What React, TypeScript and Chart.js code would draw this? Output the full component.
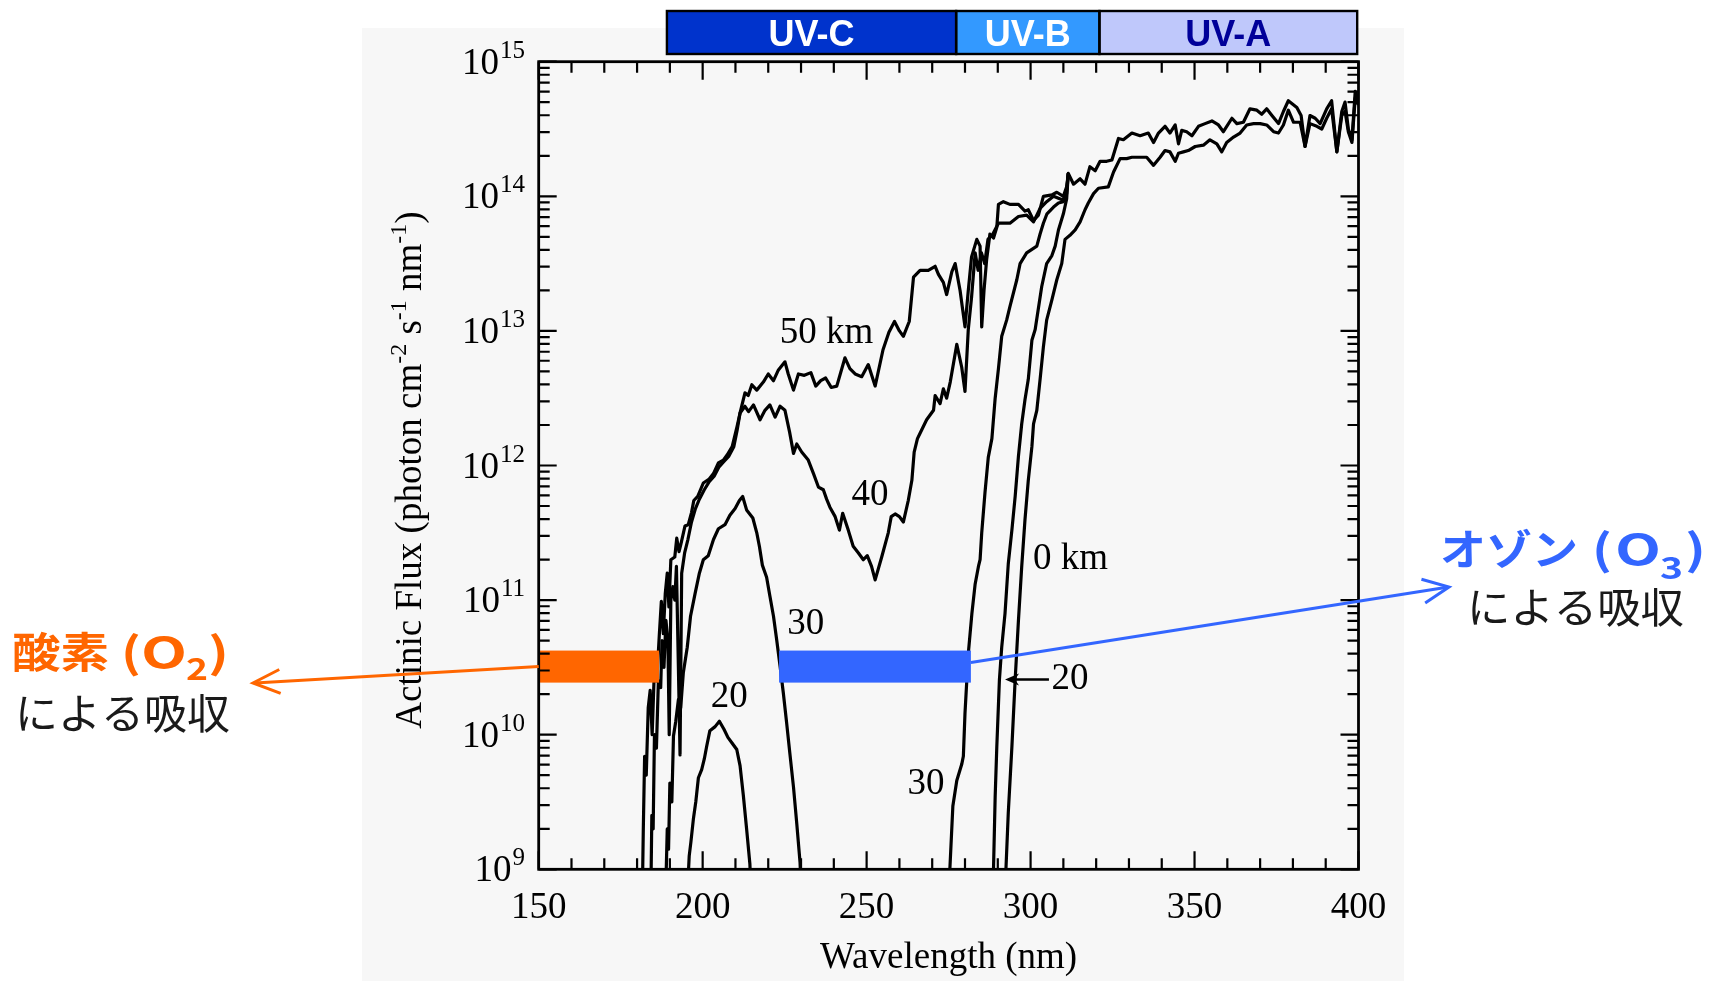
import React, { useEffect, useRef } from "react";
import { Chart, registerables } from "chart.js";

Chart.register(...registerables);

const PAGE_W = 1710;
const PAGE_H = 981;

// ---- data: [wavelength (nm), log10 actinic flux (photon cm-2 s-1 nm-1)] ----
type Pt = [number, number] | null;

const flux50km: Pt[] = [
  [181.6, 8.8], [181.9, 9.3], [182.3, 9.84], [182.8, 9.7], [183.4, 10.2], [184.0, 10.33], [184.6, 10.0],
  [185.3, 10.5], [186.0, 10.4], [186.8, 10.75], [187.4, 10.99], [188.0, 10.75], [188.6, 11.05], [189.2, 11.2],
  [189.7, 10.95], [190.3, 11.3], [191.5, 11.32], [192.1, 11.46], [192.8, 11.36], [193.4, 11.42], [194.6, 11.55],
  [195.6, 11.56], [196.6, 11.65], [197.3, 11.74], [198.5, 11.77], [200.2, 11.87], [202.0, 11.9], [203.3, 11.94],
  [204.8, 12.02], [206.3, 12.04], [207.5, 12.08], [209.0, 12.14], [210.5, 12.29], [211.5, 12.4], [212.9, 12.54],
  [213.9, 12.52], [215.0, 12.6], [216.5, 12.56], [218.5, 12.62], [220.0, 12.68], [221.6, 12.63], [223.1, 12.71],
  [225.1, 12.77], [226.1, 12.68], [227.7, 12.56], [229.2, 12.68], [231.0, 12.67], [233.0, 12.69], [234.5, 12.59],
  [236.0, 12.63], [237.5, 12.65], [239.2, 12.58], [240.9, 12.59], [243.4, 12.8], [244.9, 12.72], [246.5, 12.68],
  [248.5, 12.66], [250.5, 12.75], [252.6, 12.59], [255.0, 12.86], [256.8, 12.99], [258.5, 13.07], [260.0, 13.0],
  [261.2, 12.96], [263.0, 13.07], [264.3, 13.4], [266.3, 13.45], [268.8, 13.45], [270.9, 13.48], [271.9, 13.42],
  [273.4, 13.36], [274.4, 13.27], [276.0, 13.44], [277.0, 13.5], [278.5, 13.3], [280.0, 13.03], [281.0, 13.3],
  [282.0, 13.55], [283.6, 13.68], [284.6, 13.63], [285.1, 13.03], [285.8, 13.3], [286.6, 13.53], [287.6, 13.72],
  [288.7, 13.69], [289.7, 13.77], [290.2, 13.94], [291.7, 13.96], [293.7, 13.94], [296.3, 13.94], [298.3, 13.89],
  [299.3, 13.9], [300.9, 13.82], [302.4, 13.86], [303.9, 14.0], [306.5, 14.01], [308.0, 14.03], [310.0, 14.0],
  [311.0, 14.07], [311.5, 14.17], [313.1, 14.09], [315.1, 14.13], [316.6, 14.09], [318.1, 14.22], [319.7, 14.19],
  [321.2, 14.26], [323.2, 14.26], [324.8, 14.27], [326.8, 14.43], [328.3, 14.42], [330.9, 14.47], [333.4, 14.45],
  [335.9, 14.47], [337.5, 14.4], [339.0, 14.47], [341.0, 14.52], [342.5, 14.47], [344.1, 14.53], [345.1, 14.39],
  [346.1, 14.49], [347.6, 14.48], [349.2, 14.45], [351.2, 14.52], [353.2, 14.54], [355.3, 14.56], [357.3, 14.53],
  [358.8, 14.48], [361.4, 14.58], [362.9, 14.54], [364.9, 14.55], [366.9, 14.65], [369.0, 14.64], [370.5, 14.61],
  [372.0, 14.65], [373.6, 14.6], [375.6, 14.54], [377.1, 14.63], [378.6, 14.71], [381.2, 14.66], [382.5, 14.6],
  [383.7, 14.37], [385.2, 14.6], [386.8, 14.58], [388.3, 14.54], [390.3, 14.65], [391.8, 14.71], [393.4, 14.33],
  [394.9, 14.63], [395.9, 14.7], [396.9, 14.5], [398.0, 14.42], [399.0, 14.78], [400.0, 14.72],
];

const flux40km: Pt[] = [
  [184.2, 8.8], [184.5, 9.4], [184.9, 9.3], [185.3, 10.0], [185.9, 9.9], [186.5, 10.4], [187.2, 10.35],
  [187.6, 10.7], [188.2, 10.5], [188.8, 10.85], [189.4, 10.7], [189.8, 10.0], [190.3, 11.0], [190.9, 11.1],
  [191.5, 11.0], [192.0, 11.25], [192.6, 10.5], [193.1, 9.85], [193.6, 11.2], [194.5, 11.35], [195.5, 11.45],
  [196.6, 11.58], [197.8, 11.68], [199.0, 11.75], [200.5, 11.82], [202.0, 11.88], [203.5, 11.92], [205.0, 11.99],
  [206.5, 12.03], [208.0, 12.07], [209.5, 12.14], [210.5, 12.26], [211.4, 12.39], [212.9, 12.44], [214.0, 12.4],
  [215.5, 12.45], [217.5, 12.34], [219.0, 12.41], [220.5, 12.45], [222.1, 12.36], [223.6, 12.44], [225.1, 12.41],
  [226.5, 12.25], [227.7, 12.09], [228.7, 12.16], [230.2, 12.1], [232.2, 12.04], [233.8, 11.94], [235.3, 11.84],
  [236.8, 11.82], [237.8, 11.75], [238.8, 11.69], [240.4, 11.62], [241.7, 11.52], [242.7, 11.645], [244.4, 11.52],
  [245.9, 11.4], [247.5, 11.35], [249.0, 11.3], [250.2, 11.33], [251.5, 11.25], [252.6, 11.15], [254.6, 11.32],
  [256.6, 11.5], [257.5, 11.62], [258.7, 11.64], [260.0, 11.62], [261.2, 11.58], [262.7, 11.74], [263.8, 11.89],
  [264.5, 12.1], [265.5, 12.2], [266.3, 12.24], [268.3, 12.34], [270.4, 12.41], [270.9, 12.52], [272.4, 12.46],
  [273.4, 12.57], [274.4, 12.5], [275.5, 12.62], [277.5, 12.9], [279.0, 12.73], [280.0, 12.55], [281.0, 13.01],
  [282.0, 13.25], [283.1, 13.58], [284.0, 13.45], [285.0, 13.58], [286.0, 13.5], [287.0, 13.68], [288.5, 13.72],
  [290.2, 13.8], [291.7, 13.8], [293.7, 13.8], [296.3, 13.85], [298.8, 13.86], [300.9, 13.81], [302.9, 13.91],
  [304.9, 13.96], [307.0, 14.0], [310.0, 13.97], [311.0, 14.05], [311.5, 14.17],
];

const flux30km: Pt[] = [
  [188.7, 8.8], [189.2, 9.3], [189.6, 9.15], [190.0, 9.64], [190.6, 9.5], [191.1, 9.99], [191.8, 10.1],
  [192.6, 10.26], [193.3, 10.2], [194.1, 10.46], [195.3, 10.65], [196.3, 10.88], [197.7, 11.05], [199.0, 11.2],
  [200.2, 11.3], [201.7, 11.33], [203.3, 11.45], [204.8, 11.53], [206.8, 11.56], [208.3, 11.63], [209.9, 11.68],
  [211.2, 11.74], [212.2, 11.77], [213.4, 11.67], [215.3, 11.61], [216.5, 11.5], [217.3, 11.4], [218.2, 11.26],
  [219.5, 11.17], [220.5, 11.03], [221.6, 10.88], [222.6, 10.7], [223.6, 10.51], [224.6, 10.31], [225.6, 10.09],
  [226.6, 9.86], [227.7, 9.61], [228.7, 9.34], [229.7, 9.05], [230.1, 8.8],
  null,
  [275.2, 8.8], [275.4, 9.01], [276.3, 9.47], [277.5, 9.66], [279.0, 9.78], [279.5, 9.84], [280.0, 10.16],
  [281.0, 10.6], [282.1, 10.9], [283.1, 11.12], [284.1, 11.25], [284.6, 11.3], [285.1, 11.5], [286.1, 11.8],
  [287.1, 12.06], [288.2, 12.2], [289.2, 12.5], [290.2, 12.72], [291.2, 12.96], [292.7, 13.08], [293.7, 13.18],
  [295.8, 13.38], [296.8, 13.5], [298.8, 13.58], [301.9, 13.63], [302.9, 13.72], [303.9, 13.8], [305.0, 13.87],
  [307.0, 13.92], [308.5, 13.95], [310.0, 13.96], [311.0, 14.02], [311.5, 14.17],
];

const flux20km: Pt[] = [
  [195.3, 8.8], [195.9, 9.1], [196.4, 9.2], [197.2, 9.38], [197.9, 9.5], [198.7, 9.68], [199.7, 9.74],
  [200.5, 9.82], [201.2, 9.91], [202.2, 10.03], [203.8, 10.06], [205.1, 10.1], [206.5, 10.04], [207.7, 9.98],
  [208.9, 9.94], [210.4, 9.89], [211.4, 9.77], [212.4, 9.55], [213.4, 9.3], [214.4, 9.04], [214.8, 8.8],
  null,
  [288.5, 8.8], [288.7, 9.01], [289.2, 9.54], [289.7, 9.91], [290.5, 10.41], [291.2, 10.65], [292.2, 10.9],
  [293.2, 11.27], [294.3, 11.52], [295.3, 11.77], [296.3, 12.07], [297.3, 12.31], [298.3, 12.49], [299.3, 12.64],
  [300.4, 12.93], [301.4, 13.01], [303.4, 13.33], [304.9, 13.5], [306.5, 13.56], [307.5, 13.63], [308.5, 13.75],
  [310.0, 13.87], [311.0, 13.98], [311.5, 14.17],
];

const flux0km: Pt[] = [
  [292.3, 8.8], [292.5, 9.01], [293.2, 9.42], [294.3, 9.91], [295.3, 10.41], [296.3, 10.85], [297.3, 11.25],
  [298.3, 11.6], [299.3, 11.89], [300.4, 12.14], [300.9, 12.31], [301.9, 12.41], [302.9, 12.64], [303.9, 12.88],
  [304.9, 13.08], [306.5, 13.23], [308.0, 13.38], [309.5, 13.5], [310.5, 13.68], [312.0, 13.71], [313.6, 13.75],
  [315.1, 13.81], [316.6, 13.9], [317.6, 13.95], [319.2, 14.02], [320.7, 14.06], [323.7, 14.07], [325.3, 14.18],
  [327.3, 14.28], [329.3, 14.28], [330.9, 14.29], [333.4, 14.29], [335.4, 14.29], [337.5, 14.23], [339.5, 14.29],
  [341.0, 14.34], [342.5, 14.33], [344.1, 14.26], [345.1, 14.32], [346.6, 14.33], [348.1, 14.34], [350.2, 14.37],
  [352.7, 14.38], [354.7, 14.42], [356.8, 14.39], [358.3, 14.33], [359.8, 14.4], [361.9, 14.44], [363.9, 14.47],
  [365.9, 14.53], [368.0, 14.54], [370.0, 14.54], [372.0, 14.53], [374.1, 14.48], [375.6, 14.47], [377.1, 14.53],
  [378.6, 14.64], [380.2, 14.55], [382.2, 14.55], [383.7, 14.37], [385.2, 14.54], [387.3, 14.52], [388.8, 14.5],
  [390.3, 14.58], [391.8, 14.65], [393.4, 14.33], [394.9, 14.6], [395.9, 14.63], [396.9, 14.48], [398.0, 14.4],
  [399.0, 14.73], [400.0, 14.68],
];

// axes
const xTickLabels = [150, 200, 250, 300, 350, 400];
const yTickExponents = [9, 10, 11, 12, 13, 14, 15];

// in-plot curve labels: text, wavelength, log10 flux
const curveLabelText = ["50 km", "40", "30", "20", "30", "0 km"];
const curveLabelNm = [237.8, 251.0, 231.4, 208.1, 268.1, 312.2];
const curveLabelLogFlux = [12.98, 11.78, 10.82, 10.28, 9.634, 11.3];
// "←20" pointer: label position and arrow span
const pointerLabelText = "20";
const pointerLabelNm = 312.0;
const pointerLogFlux = 10.41;
const pointerArrowNm = [305.6, 292.2];

// UV bands drawn above the plot
const uvBandNames = ["UV-C", "UV-B", "UV-A"];
const uvBandEdgesNm = [189.1, 277.3, 321.0, 399.6];

// absorption bars (O2 and O3) at a common flux band
const o2AbsorptionNm = [150, 186.7];
const o3AbsorptionNm = [223.3, 281.8];
const absorptionBarLogFlux = [10.387, 10.625];

// ---- styles ----
const SERIF = '"Liberation Serif", "Times New Roman", serif';
const SANS = '"Liberation Sans", Arial, sans-serif';
const CJK = '"Noto Sans CJK JP", "Noto Sans", sans-serif';
const ORANGE = "#ff6600";
const BLUE = "#3366ff";
const UV_FILL = ["#0033cc", "#3399ff", "#bfc8fb"];
const UV_TEXT = ["#ffffff", "#ffffff", "#000099"];

function toData(points: Pt[]) {
  return points.map((p) => (p ? { x: p[0], y: Math.pow(10, p[1]) } : { x: 250, y: null }));
}

function textW(ctx: CanvasRenderingContext2D, s: string, x: number, y: number, font: string, color: string, width?: number) {
  ctx.save();
  ctx.font = font;
  ctx.fillStyle = color;
  ctx.textAlign = "left";
  ctx.textBaseline = "alphabetic";
  const w = ctx.measureText(s).width;
  const sx = width ? width / w : 1;
  ctx.translate(x, y);
  ctx.scale(sx, 1);
  ctx.fillText(s, 0, 0);
  ctx.restore();
}

function openArrow(ctx: CanvasRenderingContext2D, x0: number, y0: number, x1: number, y1: number, color: string, lw: number, len: number, half: number) {
  const a = Math.atan2(y1 - y0, x1 - x0);
  const ux = Math.cos(a), uy = Math.sin(a);
  const px = -uy, py = ux;
  ctx.save();
  ctx.strokeStyle = color;
  ctx.lineWidth = lw;
  ctx.lineCap = "butt";
  ctx.lineJoin = "miter";
  ctx.beginPath();
  ctx.moveTo(x0, y0);
  ctx.lineTo(x1 - ux * 2, y1 - uy * 2);
  ctx.stroke();
  ctx.beginPath();
  ctx.moveTo(x1 - ux * len + px * half, y1 - uy * len + py * half);
  ctx.lineTo(x1, y1);
  ctx.lineTo(x1 - ux * len - px * half, y1 - uy * len - py * half);
  ctx.stroke();
  ctx.restore();
}

const figurePlugin = {
  id: "figureDecor",
  beforeDraw(chart: any) {
    const ctx = chart.ctx as CanvasRenderingContext2D;
    ctx.save();
    ctx.fillStyle = "#ffffff";
    ctx.fillRect(0, 0, chart.width, chart.height);
    ctx.fillStyle = "#f7f7f7";
    ctx.fillRect(362, 28, 1404 - 362, PAGE_H - 28);
    ctx.restore();
  },
  afterDatasetsDraw(chart: any) {
    const ctx = chart.ctx as CanvasRenderingContext2D;
    const xs = chart.scales.x;
    const ys = chart.scales.y;
    const X = (v: number) => xs.getPixelForValue(v);
    const Y = (lg: number) => ys.getPixelForValue(Math.pow(10, lg));
    const { left, right, top, bottom } = chart.chartArea;
    ctx.save();

    // absorption bars
    const yTopBar = Y(absorptionBarLogFlux[1]);
    const yBotBar = Y(absorptionBarLogFlux[0]);
    const yMidBar = (yTopBar + yBotBar) / 2;
    ctx.fillStyle = ORANGE;
    ctx.fillRect(X(o2AbsorptionNm[0]), yTopBar, X(o2AbsorptionNm[1]) - X(o2AbsorptionNm[0]), yBotBar - yTopBar);
    ctx.fillStyle = BLUE;
    ctx.fillRect(X(o3AbsorptionNm[0]), yTopBar, X(o3AbsorptionNm[1]) - X(o3AbsorptionNm[0]), yBotBar - yTopBar);

    // frame
    ctx.strokeStyle = "#000";
    ctx.lineWidth = 2.8;
    ctx.strokeRect(left, top, right - left, bottom - top);

    // ticks
    ctx.lineWidth = 2.2;
    ctx.beginPath();
    for (let v = 150; v <= 400; v += 10) {
      const px = X(v);
      const len = v % 50 === 0 ? 18 : 11;
      ctx.moveTo(px, bottom);
      ctx.lineTo(px, bottom - len);
      ctx.moveTo(px, top);
      ctx.lineTo(px, top + len);
    }
    for (let k = 9; k <= 15; k++) {
      for (let m = 1; m <= 9; m++) {
        if (k === 15 && m > 1) break;
        const py = ys.getPixelForValue(m * Math.pow(10, k));
        const len = m === 1 ? 18 : 11;
        ctx.moveTo(left, py);
        ctx.lineTo(left + len, py);
        ctx.moveTo(right, py);
        ctx.lineTo(right - len, py);
      }
    }
    ctx.stroke();

    // y tick labels 10^k
    ctx.fillStyle = "#000";
    for (const k of yTickExponents) {
      const py = Y(k);
      ctx.font = `25px ${SERIF}`;
      ctx.textAlign = "right";
      ctx.textBaseline = "alphabetic";
      const exp = String(k);
      const ew = ctx.measureText(exp).width;
      const xr = 525;
      ctx.fillText(exp, xr, py - 4);
      ctx.font = `37px ${SERIF}`;
      ctx.fillText("10", xr - ew - 1, py + 12);
    }

    // x tick labels
    ctx.font = `37px ${SERIF}`;
    ctx.textAlign = "center";
    ctx.textBaseline = "alphabetic";
    for (const v of xTickLabels) ctx.fillText(String(v), X(v), 918);

    // x title
    ctx.fillText("Wavelength (nm)", (left + right) / 2, 968);

    // y title (rotated, with superscripts)
    const segs: [string, boolean][] = [
      ["Actinic Flux (photon cm", false], ["-2", true], [" s", false], ["-1", true],
      [" nm", false], ["-1", true], [")", false],
    ];
    const mainF = `37px ${SERIF}`;
    const supF = `24px ${SERIF}`;
    let total = 0;
    for (const [t, sup] of segs) {
      ctx.font = sup ? supF : mainF;
      total += ctx.measureText(t).width;
    }
    ctx.save();
    ctx.translate(421, 470);
    ctx.rotate(-Math.PI / 2);
    ctx.textAlign = "left";
    let cx = -total / 2;
    for (const [t, sup] of segs) {
      ctx.font = sup ? supF : mainF;
      ctx.fillText(t, cx, sup ? -15 : 0);
      cx += ctx.measureText(t).width;
    }
    ctx.restore();

    // curve labels
    ctx.font = `37px ${SERIF}`;
    ctx.textAlign = "center";
    ctx.textBaseline = "middle";
    for (let i = 0; i < curveLabelText.length; i++) {
      ctx.fillText(curveLabelText[i], X(curveLabelNm[i]), Y(curveLabelLogFlux[i]));
    }
    ctx.fillText(pointerLabelText, X(pointerLabelNm), Y(pointerLogFlux));
    // pointer arrow (filled head)
    {
      const py = Y(pointerLogFlux);
      const xa = X(pointerArrowNm[0]);
      const xb = X(pointerArrowNm[1]);
      ctx.lineWidth = 2.4;
      ctx.beginPath();
      ctx.moveTo(xa, py);
      ctx.lineTo(xb + 8, py);
      ctx.stroke();
      ctx.beginPath();
      ctx.moveTo(xb, py);
      ctx.lineTo(xb + 14, py - 6);
      ctx.lineTo(xb + 10, py);
      ctx.lineTo(xb + 14, py + 6);
      ctx.closePath();
      ctx.fill();
    }

    // UV band boxes above the plot
    const bTop = 11;
    const bBot = 54;
    for (let i = 0; i < uvBandNames.length; i++) {
      const x0 = X(uvBandEdgesNm[i]);
      const x1 = X(uvBandEdgesNm[i + 1]);
      ctx.fillStyle = UV_FILL[i];
      ctx.fillRect(x0, bTop, x1 - x0, bBot - bTop);
    }
    ctx.strokeStyle = "#000";
    ctx.lineWidth = 2.4;
    for (let i = 0; i < uvBandNames.length; i++) {
      const x0 = X(uvBandEdgesNm[i]);
      const x1 = X(uvBandEdgesNm[i + 1]);
      ctx.strokeRect(x0, bTop, x1 - x0, bBot - bTop);
      ctx.fillStyle = UV_TEXT[i];
      ctx.font = `bold 36px ${SANS}`;
      ctx.textAlign = "center";
      ctx.textBaseline = "alphabetic";
      ctx.fillText(uvBandNames[i], (x0 + x1) / 2, 46);
    }

    // arrows to the annotations
    openArrow(ctx, X(o2AbsorptionNm[0]), yMidBar, 253, 683, ORANGE, 3, 27, 12);
    openArrow(ctx, X(o3AbsorptionNm[1]), yMidBar - 4, 1449, 587, BLUE, 3, 26, 12);

    // Japanese annotations
    const bold = `bold 42px ${CJK}`;
    const reg = `42px ${CJK}`;
    const subF = `bold 30px ${CJK}`;
    textW(ctx, "酸素", 12, 668, bold, ORANGE, 97);
    textW(ctx, "(", 121, 668, bold, ORANGE, 20);
    textW(ctx, "O", 141, 668, bold, ORANGE, 46);
    textW(ctx, "2", 186, 680, subF, ORANGE, 22);
    textW(ctx, ")", 208, 668, bold, ORANGE, 21);
    textW(ctx, "による吸収", 15, 729, reg, "#1a1a1a", 215);

    textW(ctx, "オゾン", 1440, 565, bold, BLUE, 138);
    textW(ctx, "(", 1592, 565, bold, BLUE, 20);
    textW(ctx, "O", 1615, 565, bold, BLUE, 46);
    textW(ctx, "3", 1660, 579, subF, BLUE, 23);
    textW(ctx, ")", 1685, 565, bold, BLUE, 21);
    textW(ctx, "による吸収", 1467, 623, reg, "#1a1a1a", 217);

    ctx.restore();
  },
};

export default function App() {
  const ref = useRef<HTMLCanvasElement>(null);
  useEffect(() => {
    let chart: Chart | null = null;
    let cancelled = false;
    const fonts = [
      `36px ${SERIF}`, `bold 36px ${SANS}`, `bold 42px ${CJK}`, `42px ${CJK}`,
    ];
    const make = () => {
      if (cancelled || !ref.current) return;
      const series = [flux50km, flux40km, flux30km, flux20km, flux0km];
      const names = ["50 km", "40 km", "30 km", "20 km", "0 km"];
      chart = new Chart(ref.current, {
        type: "line",
        data: {
          datasets: series.map((s, i) => ({
            label: names[i],
            data: toData(s) as any,
            borderColor: "#000",
            borderWidth: 3.2,
            pointRadius: 0,
            tension: 0,
            spanGaps: false,
            fill: false,
            borderJoinStyle: "round" as const,
          })),
        },
        options: {
          responsive: false,
          animation: false,
          devicePixelRatio: 1,
          layout: { padding: { left: 538.7, right: PAGE_W - 1358.5, top: 61.7, bottom: PAGE_H - 869.3 } },
          plugins: { legend: { display: false }, tooltip: { enabled: false } },
          scales: {
            x: { type: "linear", min: 150, max: 400, display: false },
            y: { type: "logarithmic", min: 1e9, max: 1e15, display: false },
          },
        },
        plugins: [figurePlugin as any],
      });
    };
    const fs: any = (document as any).fonts;
    if (fs && fs.load) {
      Promise.all(fonts.map((f) => fs.load(f, "酸素オゾンによる吸収UV10"))).then(make, make);
    } else {
      make();
    }
    return () => {
      cancelled = true;
      if (chart) chart.destroy();
    };
  }, []);
  return (
    <div style={{ position: "fixed", left: 0, top: 0, width: PAGE_W, height: PAGE_H, background: "#fff" }}>
      <canvas ref={ref} width={PAGE_W} height={PAGE_H} style={{ display: "block", width: PAGE_W, height: PAGE_H }} />
    </div>
  );
}
